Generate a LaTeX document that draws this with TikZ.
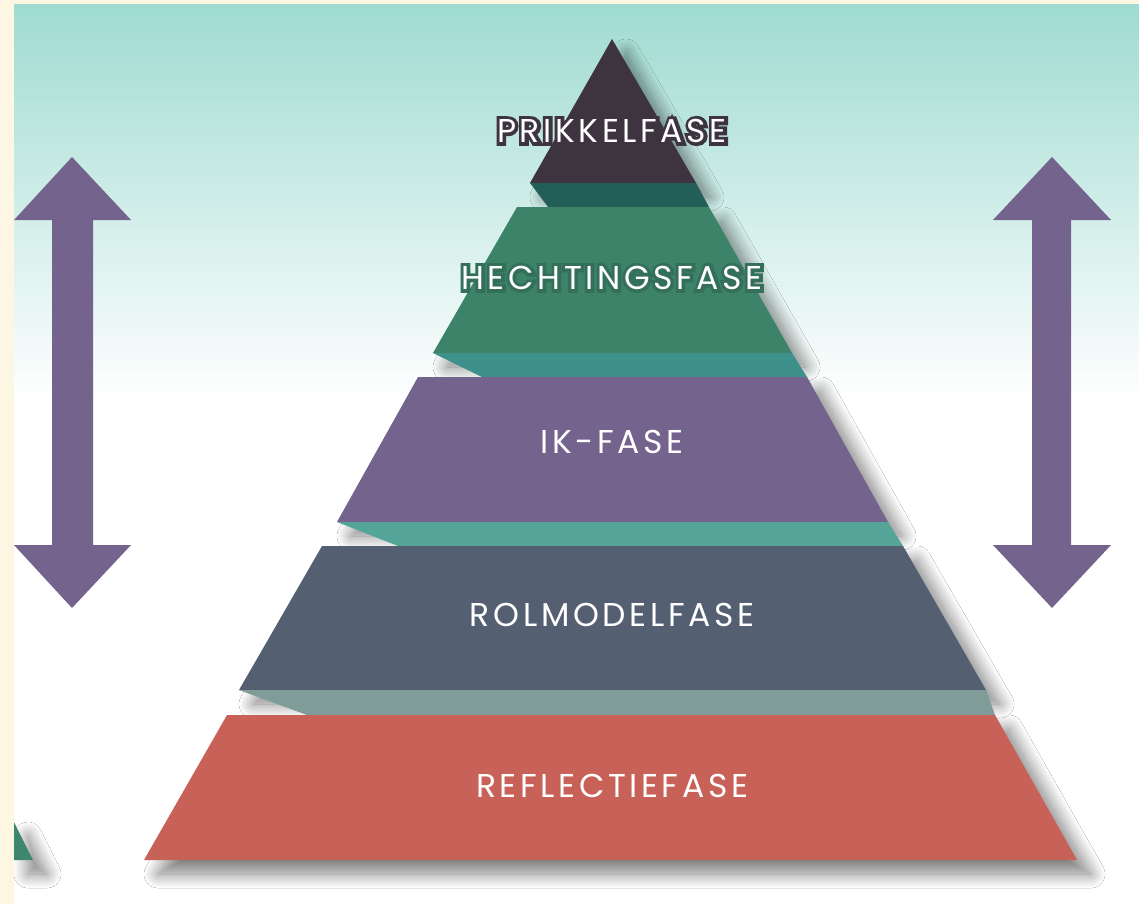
\documentclass[tikz,border=0pt]{standalone}
\usepackage{fontspec}
\setmainfont{Poppins}[LetterSpace=11]
\newfontfamily\outlinefont{Poppins}[LetterSpace=11, FakeBold=20]
\usetikzlibrary{shadows.blur}
\definecolor{cream}{HTML}{FDF6E3}
\definecolor{skyteal}{HTML}{9FDBD1}
\definecolor{cprik}{HTML}{3D343F}
\definecolor{cprikband}{HTML}{235F58}
\definecolor{checht}{HTML}{3D8369}
\definecolor{chechtband}{HTML}{3E908A}
\definecolor{cik}{HTML}{74648D}
\definecolor{cikband}{HTML}{55A498}
\definecolor{crol}{HTML}{545F72}
\definecolor{crolband}{HTML}{7F9C99}
\definecolor{crefl}{HTML}{C86158}
\definecolor{carrow}{HTML}{74648D}
\definecolor{cgreen}{HTML}{3D876D}
\tikzset{
  tier/.style={fill=#1, draw=none, blur shadow={shadow xshift=14pt, shadow yshift=-14pt, shadow blur radius=14pt, shadow opacity=50, shadow blur steps=20}},
  band/.style={fill=#1, draw=none},
  label/.style={text=white, font=\fontsize{33}{38}\selectfont, inner sep=0pt, anchor=center},
  halo/.style={text=#1, font=\outlinefont\fontsize{33}{38}\selectfont, inner sep=0pt, anchor=center},
  arrowshape/.style={fill=carrow, draw=none}
}
\begin{document}
\begin{tikzpicture}[x=1pt,y=-1pt]
\useasboundingbox (0,0) rectangle (1139,904);
% background
\fill[cream] (0,0) rectangle (1139,904);
\fill[white] (14,5) rectangle (1139,904);
\shade[top color=skyteal, bottom color=white] (14,5) rectangle (1139,400);

% partial green pyramid bottom-left
\path[tier=cgreen] (14,822) -- (33,860) -- (14,860) -- cycle;
\fill[cream] (0,0) rectangle (14,904);

% arrows
\path[arrowshape] (72,157) -- (131,220) -- (93,220) -- (93,545) -- (131,545) -- (72,608) -- (14,545) -- (52,545) -- (52,220) -- (14,220) -- cycle;
\path[arrowshape] (1052,157) -- (1111,220) -- (1071,220) -- (1071,545) -- (1111,545) -- (1052,608) -- (993,545) -- (1032,545) -- (1032,220) -- (993,220) -- cycle;

% pyramid tiers (top to bottom)
\path[tier=cprik] (612,39) -- (696,183) -- (530,183) -- cycle;
\path[band=cprikband] (530,183) -- (696,183) -- (709,207) -- (548,207) -- cycle;
\path[tier=checht] (517,207) -- (709,207) -- (792,353) -- (433,353) -- cycle;
\path[band=chechtband] (433,353) -- (792,353) -- (807,377) -- (482,377) -- cycle;
\path[tier=cik] (418,377) -- (807,377) -- (888,522) -- (337,522) -- cycle;
\path[band=cikband] (337,522) -- (888,522) -- (903,546) -- (398,546) -- cycle;
\path[tier=crol] (322,546) -- (903,546) -- (986,690) -- (239,690) -- cycle;
\path[band=crolband] (239,690) -- (986,690) -- (995,715) -- (307,715) -- cycle;
\path[tier=crefl] (227,715) -- (995,715) -- (1077,860) -- (144,860) -- cycle;

% labels
\node[halo=cprik] (prikhalo) at (612,131) {PRIKKELFASE};
\node[label] (prik) at (612,131) {PRIKKELFASE};
\node[halo=checht!85!black] (hechthalo) at (612,278) {HECHTINGSFASE};
\node[label] (hecht) at (612,278) {HECHTINGSFASE};
\node[label] (ik) at (612,442) {IK-FASE};
\node[label] (rol) at (612,615) {ROLMODELFASE};
\node[label] (refl) at (612,786) {REFLECTIEFASE};
\end{tikzpicture}
\end{document}
